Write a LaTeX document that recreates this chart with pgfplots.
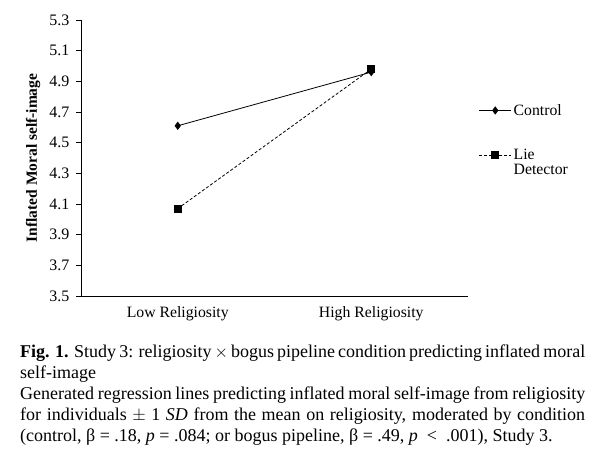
\documentclass[border=0pt]{standalone}
\usepackage{pgfplots}
\pgfplotsset{compat=1.18}
\usepackage{fontspec}
\setmainfont{Liberation Serif}
\begin{document}
\begin{tikzpicture}[x=1pt,y=1pt]
\path[use as bounding box] (0,0) rectangle (597,460);
\begin{axis}[
  at={(81pt,164pt)}, anchor=south west,
  scale only axis, width=387pt, height=276pt,
  xmin=0, xmax=2, ymin=3.5, ymax=5.3,
  axis x line*=bottom, axis y line*=left,
  axis line style={black, line width=0.8pt},
  tick align=outside, major tick length=5pt,
  tick style={black, line width=0.8pt},
  ytick={3.5,3.7,...,5.31},
  yticklabel style={/pgf/number format/fixed, /pgf/number format/fixed zerofill, /pgf/number format/precision=1, xshift=-3pt, font=\fontsize{16}{18}\selectfont},
  /pgf/number format/assume math mode=true,
  xticklabel style={font=\fontsize{15.75}{18}\selectfont, yshift=-2pt},
  xtick={0.5,1.5},
  xticklabels={Low Religiosity, High Religiosity},
  major x tick style={draw=none},
  extra x ticks={0,1,2},
  extra x tick labels={},
  extra x tick style={major tick length=5pt, tick style={draw=black}},
  ylabel={Inflated Moral self-image},
  ylabel style={font=\bfseries\fontsize{15.5}{18}\selectfont, at={(axis description cs:-0.124,0.5)}, anchor=center},
  clip=false,
  legend style={at={(axis cs:2.055,4.765)}, anchor=north west, draw=none, fill=none,
    font=\fontsize{15.75}{16}\selectfont, row sep=28pt,
    cells={anchor=west}, inner sep=0pt},
  legend cell align=left,
  legend image code/.code={
    \draw[#1, mark repeat=2, mark phase=2] plot coordinates {(0pt,0pt) (16pt,0pt) (32pt,0pt)};
  },
]
\addplot[black, line width=0.8pt, mark=diamond*, mark size=3.5pt, mark options={solid}]
  coordinates {(0.5,4.61) (1.5,4.96)};
\addlegendentry{Control}
\addplot[black, line width=0.8pt, densely dashed, mark=square*, mark size=3.5pt, mark options={solid}]
  coordinates {(0.5,4.07) (1.5,4.98)};
\addlegendentry{\begin{tabular}[t]{@{}l@{}}Lie\\[-1pt]Detector\end{tabular}}
\end{axis}
\node[anchor=north west, inner sep=0pt, text width=565pt, align=justify,
  font=\fontsize{18}{21}\selectfont] at (20,115) {%
\textbf{Fig. 1.} Study 3: religiosity $\times$ bogus pipeline condition predicting inflated moral\linebreak
self-image\par
Generated regression lines predicting inflated moral self-image from religiosity\linebreak
for individuals $\pm$ 1 \textit{SD} from the mean on religiosity, moderated by condition\linebreak
(control, β = .18, \textit{p} = .084; or bogus pipeline, β = .49, \textit{p} ~<~ .001), Study 3.};
\end{tikzpicture}
\end{document}
